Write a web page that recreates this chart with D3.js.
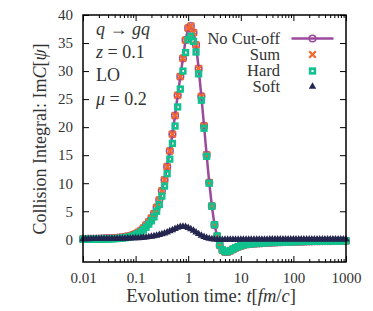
<!DOCTYPE html>
<html><head><meta charset="utf-8">
<script src="https://cdn.jsdelivr.net/npm/d3@7"></script>
<style>
html,body{margin:0;padding:0;background:#fff;}
</style></head>
<body>
<svg id="c" width="373" height="311"></svg>
<script>
// ---- data ----
const tValues = [0.01,0.0112,0.0126,0.0141,0.0158,0.0178,0.02,0.0224,0.0251,0.0282,
0.0316,0.0355,0.0398,0.0447,0.0501,0.0562,0.0631,0.0708,0.0794,0.0891,
0.1,0.112,0.126,0.141,0.158,0.178,0.2,0.224,0.251,0.282,
0.316,0.355,0.398,0.447,0.501,0.562,0.631,0.708,0.794,0.891,
1.0,1.12,1.26,1.41,1.58,1.78,2.0,2.24,2.51,2.82,
3.16,3.55,3.98,4.47,5.01,5.62,6.31,7.08,7.94,8.91,
10,11.2,12.6,14.1,15.8,17.8,20,22.4,25.1,28.2,
31.6,35.5,39.8,44.7,50.1,56.2,63.1,70.8,79.4,89.1,
100,112,126,141,158,178,200,224,251,282,
316,355,398,447,501,562,631,708,794,891,1000];

const hardValues = [0.0,0.0,0.01,0.01,0.02,0.02,0.03,0.04,0.05,0.06,
0.07,0.09,0.11,0.14,0.17,0.22,0.28,0.36,0.46,0.60,
0.78,1.0,1.3,1.7,2.15,2.7,3.3,4.0,5.0,6.2,
7.7,9.5,11.7,14.3,17.1,20.2,23.6,26.8,30.0,33.3,
35.6,36.2,35.3,33.4,29.5,24.8,19.8,14.8,10.0,5.9,
2.6,0.6,-1.0,-1.9,-2.2,-2.2,-2.0,-1.75,-1.5,-1.3,
-1.15,-1.0,-0.9,-0.85,-0.8,-0.76,-0.72,-0.69,-0.66,-0.63,
-0.6,-0.58,-0.56,-0.54,-0.52,-0.5,-0.48,-0.46,-0.45,-0.44,
-0.42,-0.41,-0.40,-0.39,-0.38,-0.37,-0.36,-0.35,-0.34,-0.33,
-0.32,-0.31,-0.31,-0.30,-0.30,-0.29,-0.29,-0.28,-0.28,-0.27,-0.27];

const softValues = [0.05,0.05,0.05,0.06,0.06,0.07,0.07,0.08,0.08,0.09,
0.09,0.10,0.10,0.11,0.12,0.13,0.14,0.16,0.17,0.19,
0.20,0.23,0.27,0.31,0.36,0.42,0.50,0.58,0.68,0.80,
0.93,1.08,1.25,1.45,1.65,1.87,2.07,2.22,2.28,2.22,
2.05,1.82,1.55,1.25,0.95,0.68,0.45,0.27,0.13,0.03,
-0.03,-0.06,-0.07,-0.07,-0.06,-0.06,-0.05,-0.05,-0.04,-0.04,
-0.03,-0.03,-0.03,-0.03,-0.03,-0.03,-0.03,-0.03,-0.03,-0.03,
-0.03,-0.02,-0.02,-0.02,-0.02,-0.02,-0.02,-0.02,-0.02,-0.02,
-0.02,-0.02,-0.02,-0.02,-0.02,-0.02,-0.01,-0.01,-0.01,-0.01,
-0.01,-0.01,-0.01,-0.01,-0.01,-0.01,-0.01,-0.01,-0.01,-0.01,-0.01];

const sumValues = [0.05,0.05,0.06,0.07,0.08,0.09,0.10,0.12,0.13,0.15,
0.16,0.19,0.21,0.25,0.29,0.35,0.42,0.52,0.63,0.79,
0.98,1.23,1.57,2.01,2.51,3.12,3.80,4.58,5.68,7.00,
8.63,10.58,12.95,15.75,18.75,22.07,25.67,29.02,32.28,35.52,
37.65,38.02,36.85,34.65,30.45,25.48,20.25,15.07,10.13,5.93,
2.57,0.54,-1.07,-1.97,-2.26,-2.26,-2.05,-1.80,-1.54,-1.34,
-1.18,-1.03,-0.93,-0.88,-0.83,-0.79,-0.75,-0.72,-0.69,-0.66,
-0.63,-0.60,-0.58,-0.56,-0.54,-0.52,-0.50,-0.48,-0.47,-0.46,
-0.44,-0.43,-0.42,-0.41,-0.40,-0.39,-0.37,-0.36,-0.35,-0.34,
-0.33,-0.32,-0.32,-0.31,-0.31,-0.30,-0.30,-0.29,-0.29,-0.28,-0.28];

const noCutoffValues = [0.05,0.05,0.06,0.07,0.08,0.09,0.10,0.12,0.13,0.15,
0.16,0.19,0.21,0.25,0.29,0.35,0.42,0.52,0.63,0.79,
0.98,1.23,1.57,2.01,2.51,3.12,3.80,4.58,5.68,7.00,
8.63,10.58,12.95,15.75,18.75,22.07,25.67,29.02,32.28,35.52,
37.65,38.02,36.85,34.65,30.45,25.48,20.25,15.07,10.13,5.93,
2.57,0.54,-1.07,-1.97,-2.26,-2.26,-2.05,-1.80,-1.54,-1.34,
-1.18,-1.03,-0.93,-0.88,-0.83,-0.79,-0.75,-0.72,-0.69,-0.66,
-0.63,-0.60,-0.58,-0.56,-0.54,-0.52,-0.50,-0.48,-0.47,-0.46,
-0.44,-0.43,-0.42,-0.41,-0.40,-0.39,-0.37,-0.36,-0.35,-0.34,
-0.33,-0.32,-0.32,-0.31,-0.31,-0.30,-0.30,-0.29,-0.29,-0.28,-0.28];

const xTickValues = [0.01,0.1,1,10,100,1000];
const xTickLabels = ["0.01","0.1","1","10","100","1000"];
const yTickValues = [0,5,10,15,20,25,30,35,40];
const seriesNames = ["No Cut-off","Sum","Hard","Soft"];

// ---- layout ----
const FONT = "'Liberation Serif', 'DejaVu Serif', 'Noto Serif', Times, serif";
const L=83, R=346, T=15, B=262;
const svg=d3.select("#c");
const x=d3.scaleLog().domain([0.01,1000]).range([L,R]);
const y=d3.scaleLinear().domain([-4.05,40]).range([B,T]);

const cPurple="#9b4a9c", cOrange="#f2692e", cGreen="#10c28d", cNavy="#25264f", cText="#333";

const minorVals=[];
xTickValues.slice(0,-1).forEach(d=>{for(let m=2;m<=9;m++)minorVals.push(d*m);});

function styleAxis(g){
  g.attr("font-family",null);
  g.select(".domain").remove();
  g.selectAll("line").attr("stroke","#000").attr("stroke-width",1);
  g.selectAll("text").style("font-family",FONT).style("font-size","15px").attr("fill",cText);
}
const fmt=(d)=>xTickLabels[xTickValues.indexOf(d)];
svg.append("g").attr("transform",`translate(0,${B})`)
  .call(d3.axisBottom(x).tickValues(xTickValues).tickSize(-6).tickPadding(10).tickFormat(fmt))
  .call(styleAxis);
svg.append("g").attr("transform",`translate(0,${B})`)
  .call(d3.axisBottom(x).tickValues(minorVals).tickSize(-3).tickFormat(""))
  .call(styleAxis);
svg.append("g").attr("transform",`translate(0,${T})`)
  .call(d3.axisTop(x).tickValues(xTickValues).tickSize(-6).tickFormat(""))
  .call(styleAxis);
svg.append("g").attr("transform",`translate(0,${T})`)
  .call(d3.axisTop(x).tickValues(minorVals).tickSize(-3).tickFormat(""))
  .call(styleAxis);
svg.append("g").attr("transform",`translate(${L},0)`)
  .call(d3.axisLeft(y).tickValues(yTickValues).tickSize(-6).tickPadding(10).tickFormat(d3.format("d")))
  .call(styleAxis);
svg.append("g").attr("transform",`translate(${R},0)`)
  .call(d3.axisRight(y).tickValues(yTickValues).tickSize(-6).tickFormat(""))
  .call(styleAxis);

// data
const data=tValues.map((t,i)=>({t,nc:noCutoffValues[i],sum:sumValues[i],hard:hardValues[i],soft:softValues[i]}));
const plot=svg.append("g");
const line=d3.line().x(d=>x(d.t)).y(d=>y(d.nc));
plot.append("path").datum(data).attr("d",line).attr("fill","none").attr("stroke",cPurple).attr("stroke-width",2.5);
plot.selectAll("circle.nc").data(data).join("circle").attr("class","nc")
  .attr("cx",d=>x(d.t)).attr("cy",d=>y(d.nc)).attr("r",3.3)
  .attr("fill","none").attr("stroke",cPurple).attr("stroke-width",1.6);
const cross=d3.symbol().type(d3.symbolX).size(30);
plot.selectAll("path.sum").data(data).join("path").attr("class","sum")
  .attr("d",cross).attr("transform",d=>`translate(${x(d.t)},${y(d.sum)})`)
  .attr("fill","none").attr("stroke",cOrange).attr("stroke-width",2.3);
plot.selectAll("rect.hard").data(data).join("rect").attr("class","hard")
  .attr("x",d=>x(d.t)-2.35).attr("y",d=>y(d.hard)-2.35).attr("width",4.7).attr("height",4.7)
  .attr("fill","none").attr("stroke",cGreen).attr("stroke-width",2.6);
const tri=d3.symbol().type(d3.symbolTriangle).size(24);
plot.selectAll("path.soft").data(data).join("path").attr("class","soft")
  .attr("d",tri).attr("transform",d=>`translate(${x(d.t)},${y(d.soft)})`)
  .attr("fill",cNavy);

// frame
svg.append("rect").attr("x",L).attr("y",T).attr("width",R-L).attr("height",B-T)
  .attr("fill","none").attr("stroke","#000").attr("stroke-width",1.5);

// text helper
function txt(g, xx, yy, size, anchor){
  return g.append("text").attr("x",xx).attr("y",yy).attr("text-anchor",anchor||"start")
    .style("font-family",FONT).style("font-size",size+"px").attr("fill",cText);
}

// legend
const lgX=280, lgMark=312.5, lgY=[38.5,54.5,71,86.5];
const lg=svg.append("g");
seriesNames.forEach((n,i)=>{ txt(lg,lgX,lgY[i]+5,16.5,"end").text(n); });
lg.append("line").attr("x1",291.5).attr("x2",333.5).attr("y1",lgY[0]).attr("y2",lgY[0]).attr("stroke",cPurple).attr("stroke-width",2.5);
lg.append("circle").attr("cx",lgMark).attr("cy",lgY[0]).attr("r",3.3).attr("fill","none").attr("stroke",cPurple).attr("stroke-width",1.6);
lg.append("path").attr("d",cross).attr("transform",`translate(${lgMark},${lgY[1]})`).attr("fill","none").attr("stroke",cOrange).attr("stroke-width",2.3);
lg.append("rect").attr("x",lgMark-2.35).attr("y",lgY[2]-2.35).attr("width",4.7).attr("height",4.7).attr("fill","#fff").attr("stroke",cGreen).attr("stroke-width",2.6);
lg.append("path").attr("d",tri).attr("transform",`translate(${lgMark},${lgY[3]})`).attr("fill",cNavy);

// annotations
const ann=svg.append("g");
const a1=txt(ann,96,35,18);
a1.append("tspan").attr("font-style","italic").text("q");
a1.append("tspan").text(" → ");
a1.append("tspan").attr("font-style","italic").text("gq");
const a2=txt(ann,96,58,18);
a2.append("tspan").attr("font-style","italic").text("z");
a2.append("tspan").text(" = 0.1");
txt(ann,96,81,18).text("LO");
const a4=txt(ann,96,105,18);
a4.append("tspan").attr("font-style","italic").text("μ");
a4.append("tspan").text(" = 0.2");

// axis titles
const xt=txt(svg,211,302,18.5,"middle");
xt.append("tspan").text("Evolution time: ");
xt.append("tspan").attr("font-style","italic").text("t");
xt.append("tspan").text("[");
xt.append("tspan").attr("font-style","italic").text("fm");
xt.append("tspan").text("/");
xt.append("tspan").attr("font-style","italic").text("c");
xt.append("tspan").text("]");
const yt=svg.append("text").attr("transform","translate(46,139) rotate(-90)").attr("text-anchor","middle")
  .style("font-family",FONT).style("font-size","18px").attr("fill",cText);
yt.append("tspan").text("Collision Integral: Im");
yt.append("tspan").attr("font-style","italic").text("C");
yt.append("tspan").text("[");
yt.append("tspan").attr("font-style","italic").text("ψ");
yt.append("tspan").text("]");
</script>
</body></html>
